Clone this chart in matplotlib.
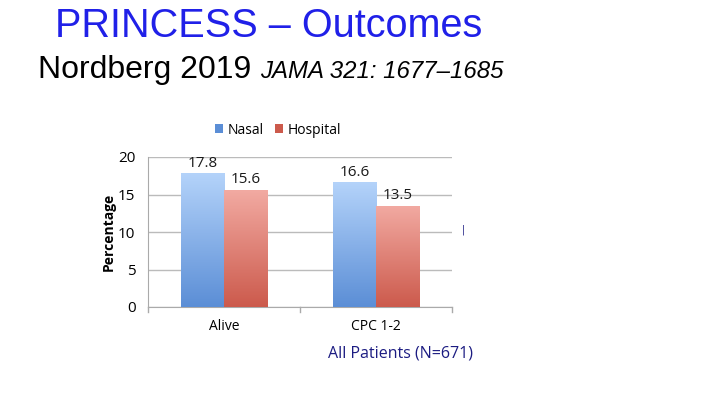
import matplotlib
matplotlib.use('Agg')
import matplotlib.pyplot as plt
import matplotlib.colors as mcolors
from matplotlib.patches import Patch
import numpy as np

categories = ['Alive', 'CPC 1-2']
series_names = ['Nasal', 'Hospital']
nasal = [17.8, 16.6]
hospital = [15.6, 13.5]
y_ticks = [0, 5, 10, 15, 20]

# light (top) -> dark (bottom) per series
grad_colors = {
    'Nasal': ('#b4d3fa', '#5b8ed6'),
    'Hospital': ('#f2aaa2', '#cc5a4c'),
}


def gradient_fill(ax, bar, top_col, bot_col):
    x0, y0 = bar.get_x(), bar.get_y()
    w, h = bar.get_width(), bar.get_height()
    cmap = mcolors.LinearSegmentedColormap.from_list('g', [bot_col, top_col])
    grad = np.linspace(0, 1, 256).reshape(-1, 1)
    im = ax.imshow(grad, cmap=cmap, aspect='auto', origin='lower',
                   extent=(x0, x0 + w, y0, y0 + h), zorder=3)
    im.set_clip_path(bar)
    bar.set_facecolor('none')


def main():
    fig = plt.figure(figsize=(7.2, 4.05), dpi=100)

    fig.text(55 / 720, 1 - 26 / 405, 'PRINCESS – Outcomes', fontsize=28.5,
             color='#2020e8', family='Liberation Sans', ha='left', va='center')
    fig.text(38 / 720, 1 - 70 / 405, 'Nordberg 2019', fontsize=23,
             color='black', family='Liberation Sans', ha='left', va='center')
    fig.text(260 / 720, 1 - 72 / 405, 'JAMA 321: 1677–1685', fontsize=17.3,
             color='black', family='Liberation Sans', style='italic',
             ha='left', va='center')

    ax = fig.add_axes([148 / 720, 1 - 307 / 405, 304 / 720, 150 / 405])
    x = np.arange(len(categories))
    width = 0.285
    bars_n = ax.bar(x - width / 2, nasal, width, label='Nasal',
                    color=grad_colors['Nasal'][1], zorder=3)
    bars_h = ax.bar(x + width / 2, hospital, width, label='Hospital',
                    color=grad_colors['Hospital'][1], zorder=3)

    for name, bars, vals in [('Nasal', bars_n, nasal), ('Hospital', bars_h, hospital)]:
        for b, v in zip(bars, vals):
            gradient_fill(ax, b, *grad_colors[name])
            ax.text(b.get_x() + b.get_width() / 2, v + 0.35, f'{v:.1f}',
                    ha='center', va='bottom', fontsize=11, family='Open Sans',
                    color='#1a1a1a')

    ax.set_xlim(-0.5, 1.5)
    ax.set_ylim(0, 20)
    ax.set_yticks(y_ticks)
    ax.set_xticks(x)
    ax.set_xticklabels(categories, family='Open Sans', fontsize=10)
    ax.tick_params(axis='y', labelsize=11, length=0, pad=9)
    ax.tick_params(axis='x', length=0, pad=9)
    for lbl in ax.get_yticklabels():
        lbl.set_family('Open Sans')
    # separator ticks between categories
    for sx in [-0.5, 0.5, 1.5]:
        ax.plot([sx, sx], [0, -0.6], color='#aaaaaa', lw=1, clip_on=False)

    ax.grid(axis='y', color='#bbbbbb', lw=1, zorder=0)
    for s in ['top', 'right']:
        ax.spines[s].set_visible(False)
    ax.spines['left'].set_color('#aaaaaa')
    ax.spines['bottom'].set_color('#aaaaaa')
    ax.set_ylabel('Percentage', family='Open Sans', fontweight='bold',
                  fontsize=10, labelpad=2)

    handles = [Patch(facecolor=grad_colors[n][1]) for n in series_names]
    fig.legend(handles, series_names, loc='center', ncol=2,
               bbox_to_anchor=(278 / 720, 1 - 130 / 405), frameon=False,
               handlelength=0.6, handleheight=0.6, handletextpad=0.3,
               columnspacing=0.8, prop={'family': 'Open Sans', 'size': 10})

    fig.text(401 / 720, 1 - 353 / 405, 'All Patients (N=671)', fontsize=11.5,
             color='#1c1c82', family='Open Sans', ha='center', va='center')
    fig.text(463 / 720, 1 - 230 / 405, '|', fontsize=7, color='#1c1c82',
             ha='center', va='center')

    fig.savefig('out.png', dpi=100)


if __name__ == '__main__':
    main()
